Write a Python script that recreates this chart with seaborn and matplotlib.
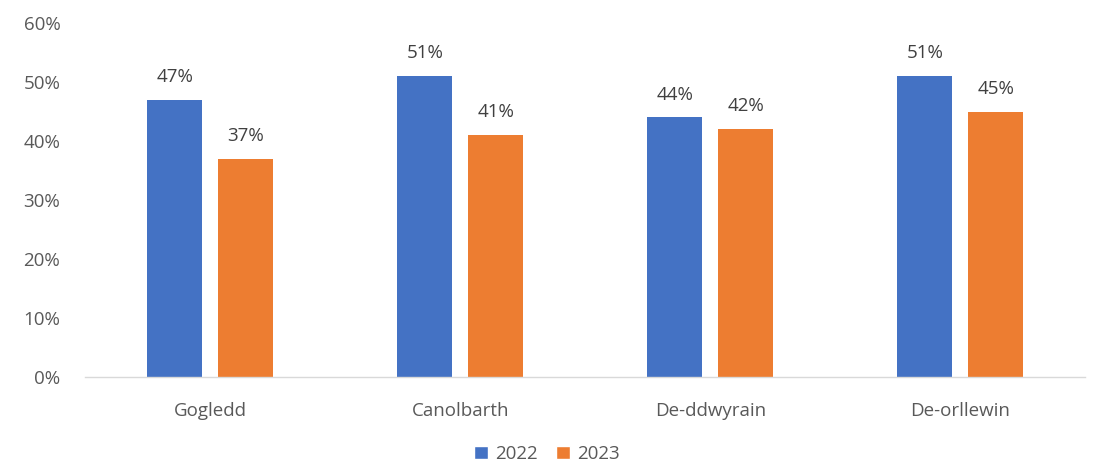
import matplotlib
matplotlib.use("Agg")
import matplotlib.pyplot as plt
import seaborn as sns
import pandas as pd
from matplotlib.patches import Patch

regions = ["Gogledd", "Canolbarth", "De-ddwyrain", "De-orllewin"]
years = ["2022", "2023"]
values_2022 = [47, 51, 44, 51]
values_2023 = [37, 41, 42, 45]
colors = ["#4472C4", "#ED7D31"]

df = pd.DataFrame({
    "region": regions * 2,
    "year": [years[0]] * 4 + [years[1]] * 4,
    "value": values_2022 + values_2023,
})

sns.set_theme(style="white")
plt.rcParams['font.family'] = ['Open Sans', 'DejaVu Sans']

FS = 13.5
fig = plt.figure(figsize=(10.94, 4.68), dpi=100)
ax = fig.add_axes([0.078, 0.194, 0.914, 0.757])
sns.barplot(data=df, x="region", y="value", hue="year", palette=colors,
            saturation=1, width=0.568, gap=0.225, linewidth=0,
            ax=ax, legend=False)

for cont in ax.containers:
    ax.bar_label(cont, labels=[f"{v:.0f}%" for v in cont.datavalues],
                 padding=10, fontsize=FS, color="#404040")

ax.set_ylim(0, 60)
ax.set_xlim(-0.5, 3.5)
ax.set_yticks(range(0, 61, 10))
ax.set_yticklabels([f"{v}%" for v in range(0, 61, 10)], fontsize=FS, color="#595959")
ax.tick_params(axis="x", labelsize=FS, labelcolor="#595959", pad=12)
ax.tick_params(axis="y", pad=12)
ax.set_xlabel("")
ax.set_ylabel("")
for s in ["top", "right", "left"]:
    ax.spines[s].set_visible(False)
ax.spines["bottom"].set_color("#D9D9D9")
ax.spines["bottom"].set_linewidth(1)

handles = [Patch(facecolor=c, label=y) for c, y in zip(colors, years)]
fig.legend(handles=handles, loc="lower center", ncol=2, frameon=False,
           fontsize=FS, bbox_to_anchor=(0.5, -0.025), handlelength=0.7,
           handleheight=0.7, columnspacing=1.0, handletextpad=0.4,
           labelcolor="#595959")

fig.savefig("out.png", dpi=100)
